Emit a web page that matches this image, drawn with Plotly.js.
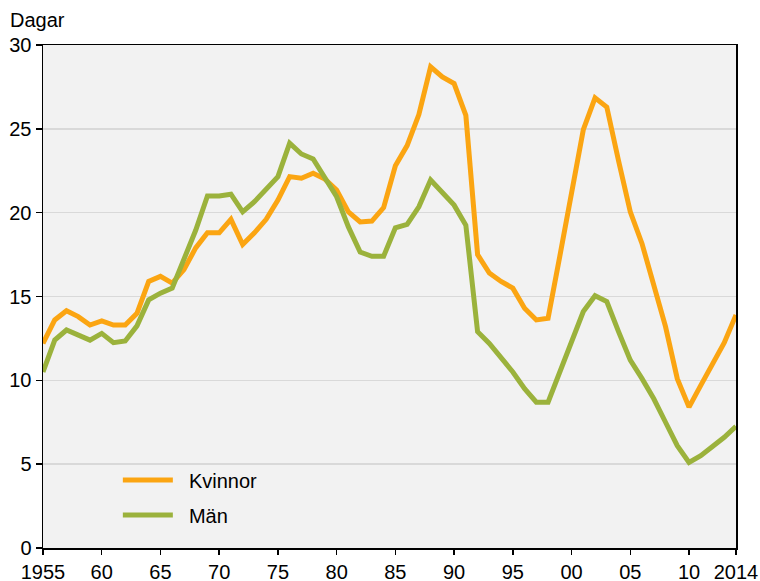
<!DOCTYPE html>
<html>
<head>
<meta charset="utf-8">
<script src="https://cdn.plot.ly/plotly-3.0.1.min.js"></script>
<style>html,body{margin:0;padding:0;background:#fff;}#chart{width:760px;height:581px;}</style>
</head>
<body>
<div id="chart"></div>
<script>
const years = [];
for (let y = 1955; y <= 2014; y++) years.push(y);

const kvinnor = [12.2, 13.6, 14.15, 13.8, 13.3, 13.55, 13.3, 13.3, 14.0, 15.9,
  16.2, 15.8, 16.6, 17.9, 18.8, 18.8, 19.6, 18.1, 18.8, 19.6,
  20.75, 22.15, 22.05, 22.35, 22.0, 21.35, 20.05, 19.45, 19.5, 20.3,
  22.8, 24.0, 25.85, 28.7, 28.1, 27.7, 25.8, 17.5, 16.4, 15.9,
  15.5, 14.3, 13.6, 13.7, 17.4, 21.2, 24.95, 26.85, 26.3, 23.1,
  20.05, 18.15, 15.8, 13.2, 10.1, 8.4, 9.7, 11.0, 12.25, 13.9];

const man = [10.5, 12.4, 13.0, 12.7, 12.4, 12.8, 12.25, 12.35, 13.25, 14.8,
  15.2, 15.5, 17.2, 18.95, 21.0, 21.0, 21.1, 20.05, 20.65, 21.4,
  22.15, 24.15, 23.5, 23.2, 22.1, 20.95, 19.15, 17.65, 17.4, 17.4,
  19.1, 19.3, 20.35, 21.95, 21.2, 20.45, 19.25, 12.9, 12.2, 11.4,
  10.5, 9.5, 8.7, 8.7, 10.5, 12.35, 14.1, 15.05, 14.7, 12.9,
  11.2, 10.1, 8.9, 7.5, 6.1, 5.1, 5.5, 6.05, 6.6, 7.25];

const seriesNames = ['Kvinnor', 'Män'];
const xTickVals = [1955, 1960, 1965, 1970, 1975, 1980, 1985, 1990, 1995, 2000, 2005, 2010, 2014];
const xTickText = ['1955', '60', '65', '70', '75', '80', '85', '90', '95', '00', '05', '10', '2014'];
const yTickVals = [0, 5, 10, 15, 20, 25, 30];

const FONT = 'Liberation Sans, Arial, sans-serif';
const pad = '\u00a0\u00a0';

const traces = [
  {x: years, y: kvinnor, name: pad + seriesNames[0], legendgroup: 'k', type: 'scatter', mode: 'lines',
   line: {color: '#FBA512', width: 5}},
  {x: years, y: man, name: pad + seriesNames[1], legendgroup: 'm', type: 'scatter', mode: 'lines',
   line: {color: '#9BB23C', width: 5}}
];

const layout = {
  width: 760, height: 581,
  margin: {l: 42.5, r: 23.5, t: 45, b: 33, pad: 0},
  paper_bgcolor: '#ffffff',
  plot_bgcolor: '#F2F2F2',
  font: {family: FONT, size: 20, color: '#000'},
  showlegend: true,
  legend: {x: 0.108, y: 0.174, xanchor: 'left', yanchor: 'top',
    bgcolor: 'rgba(0,0,0,0)', font: {family: FONT, size: 20, color: '#000'},
    itemwidth: 50, traceorder: 'grouped', tracegroupgap: 6},
  xaxis: {range: [1955, 2014], tickmode: 'array', tickvals: xTickVals, ticktext: xTickText,
    showgrid: false, zeroline: false, showline: true, linecolor: '#000', linewidth: 1.5,
    mirror: true, ticks: 'outside', ticklen: 5, tickwidth: 1.5, tickcolor: '#000',
    tickfont: {family: FONT, size: 20, color: '#000'}, fixedrange: true},
  yaxis: {range: [0, 30], tickmode: 'array', tickvals: yTickVals,
    showgrid: true, gridcolor: '#D9D9D9', gridwidth: 1.5, zeroline: false,
    showline: true, linecolor: '#000', linewidth: 1.5, mirror: true,
    ticks: 'outside', ticklen: 6, tickwidth: 1.5, tickcolor: '#000',
    tickfont: {family: FONT, size: 20, color: '#000'}, fixedrange: true},
  annotations: [{text: 'Dagar', xref: 'paper', yref: 'paper', x: -0.05, y: 1.05,
    xanchor: 'left', yanchor: 'middle', showarrow: false,
    font: {family: FONT, size: 20, color: '#000'}}]
};

Plotly.newPlot('chart', traces, layout, {displayModeBar: false, staticPlot: true});
</script>
</body>
</html>
